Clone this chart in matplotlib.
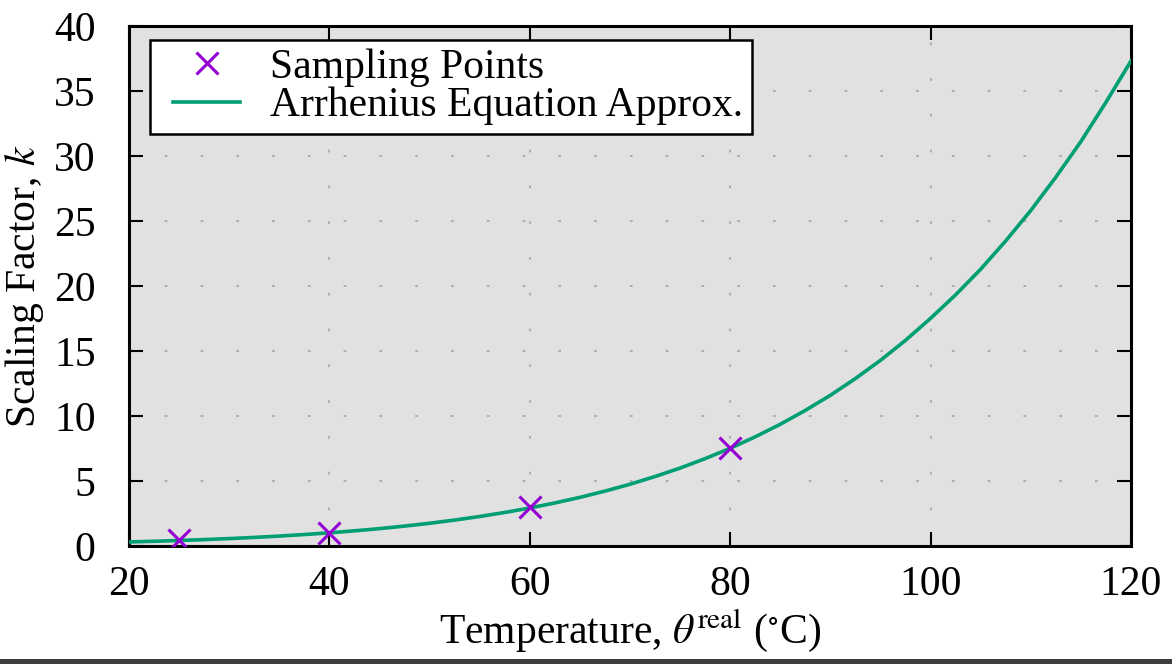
import matplotlib
matplotlib.use("Agg")
import matplotlib.pyplot as plt
from matplotlib.patches import Rectangle
from matplotlib.lines import Line2D
from matplotlib.legend_handler import HandlerLine2D

# measured scaling factors
sample_temp = [25, 40, 60, 80]
sample_k = [0.41, 1.0, 3.0, 7.5]

# fitted Arrhenius curve, tabulated every 2.5 degC
curve_temp = [20, 22.5, 25, 27.5, 30, 32.5, 35, 37.5, 40, 42.5, 45, 47.5,
              50, 52.5, 55, 57.5, 60, 62.5, 65, 67.5, 70, 72.5, 75, 77.5,
              80, 82.5, 85, 87.5, 90, 92.5, 95, 97.5, 100, 102.5, 105, 107.5,
              110, 112.5, 115, 117.5, 120]
curve_k = [0.297, 0.349, 0.409, 0.477, 0.556, 0.646, 0.749, 0.867, 1.0, 1.151, 1.322, 1.516,
           1.734, 1.980, 2.255, 2.564, 2.91, 3.296, 3.725, 4.206, 4.735, 5.329, 5.98, 6.706,
           7.5, 8.384, 9.35, 10.418, 11.58, 12.869, 14.27, 15.81, 17.5, 19.31, 21.28, 23.46,
           25.8, 28.36, 31.1, 34.12, 37.3]

plt.rcParams['font.family'] = ['Liberation Serif', 'DejaVu Serif']
plt.rcParams['mathtext.fontset'] = 'stix'
plt.rcParams['font.size'] = 30

fig = plt.figure(figsize=(11.72, 6.64), dpi=100)
ax = fig.add_axes([0.110, 0.178, 0.855, 0.783])
ax.set_facecolor('#e1e1e1')

ax.plot(sample_temp, sample_k, linestyle='none', marker='x', markersize=16,
        markeredgewidth=2.2, color='#9400d3', label='Sampling Points', zorder=4)
ax.plot(curve_temp, curve_k, color='#009e73', linewidth=2.6,
        solid_joinstyle='round', label='Arrhenius Equation Approx.', zorder=3)

ax.set_xlim(20, 120)
ax.set_ylim(0, 40)
ax.set_xticks(range(20, 121, 20))
ax.set_yticks(range(0, 41, 5))

ax.grid(True, color='#adadad', linewidth=1.4, linestyle=(0, (1.4, 17)))
ax.set_axisbelow(True)

ax.tick_params(direction='in', length=10, width=1.5, top=True, right=True)
ax.tick_params(axis='y', pad=24)
ax.tick_params(axis='x', pad=14)
for s in ax.spines.values():
    s.set_linewidth(2.2)

ax.set_xlabel(r'Temperature, $\theta^{\mathrm{real}}$ ($^{\circ}$C)', labelpad=2)
ax.set_ylabel(r'Scaling Factor, $k$', labelpad=6)

# gnuplot-style key: short sample line set in from the box edge
leg = ax.legend(loc='upper left', bbox_to_anchor=(0.021, 0.973), borderaxespad=0,
                fancybox=False, framealpha=1, edgecolor='black',
                handlelength=1.97, handletextpad=0.72, labelspacing=0.0,
                borderpad=0.2,
                handler_map={Line2D: HandlerLine2D(xpad=0.36)})
leg.get_frame().set_linewidth(1.8)

fig.add_artist(Rectangle((0, 0), 1, 5 / 664, transform=fig.transFigure,
                         facecolor='#3c3c3c', edgecolor='none'))

fig.savefig('out.png', dpi=100)
